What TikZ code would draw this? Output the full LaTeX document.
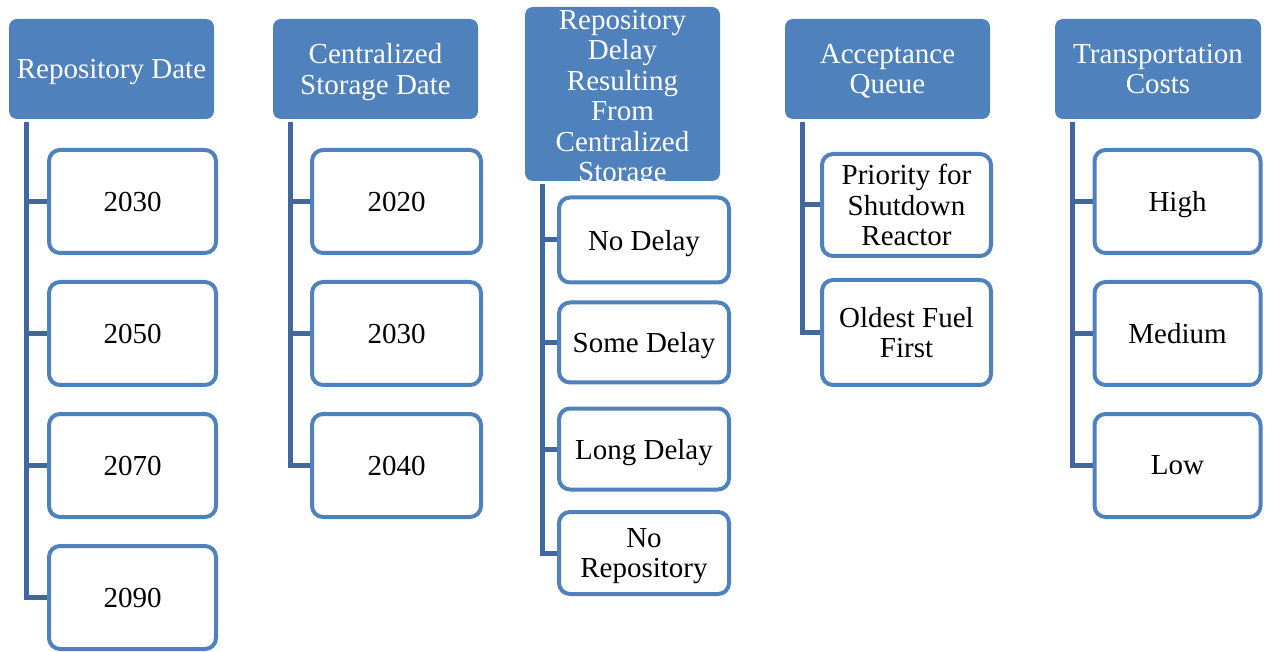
\documentclass[tikz,border=0pt]{standalone}
\usepackage{fontspec}
\setmainfont{Liberation Serif}
\usetikzlibrary{backgrounds}
\definecolor{hdrblue}{RGB}{79,129,189}
\definecolor{linkblue}{RGB}{64,104,156}
\tikzset{
  hdrfont/.style={font=\fontsize{29}{30.5}\selectfont, text depth=0pt},
  hdr/.style={fill=hdrblue, draw=none, rounded corners=8pt, text=white,
    align=center, inner sep=0pt, hdrfont,
    minimum width=205pt, minimum height=100pt},
  item/.style={fill=white, draw=hdrblue, line width=4pt, rounded corners=11pt,
    align=center, inner sep=0pt, hdrfont,
    minimum width=167pt, minimum height=103pt},
  link/.style={draw=linkblue, line width=5pt},
}
\begin{document}
\begin{tikzpicture}[x=1pt, y=-1pt]
\useasboundingbox (0,0) rectangle (1267,652);

% column headers
\node[hdr] (h1) at (111.5,69) {Repository Date};
\node[hdr] (h2) at (375.5,69) {Centralized\\Storage Date};
\node[hdr, minimum width=195pt, minimum height=174pt] (h3) at (622.5,94) {};
\node[text=white, align=center, inner sep=0pt, hdrfont] (h3t) at ([yshift=-2pt]h3.center)
  {Repository\\Delay\\Resulting\\From\\Centralized\\Storage};
\node[hdr] (h4) at (887.5,69) {Acceptance\\Queue};
\node[hdr, minimum width=206pt] (h5) at (1158,69) {Transportation\\Costs};

% repository dates
\node[item] (a1) at (132.5,201.5) {2030};
\node[item] (a2) at (132.5,333.5) {2050};
\node[item] (a3) at (132.5,465.5) {2070};
\node[item] (a4) at (132.5,597.5) {2090};

% centralized storage dates
\node[item, minimum width=169pt] (b1) at (396.5,201.5) {2020};
\node[item, minimum width=169pt] (b2) at (396.5,333.5) {2030};
\node[item, minimum width=169pt] (b3) at (396.5,465.5) {2040};

% repository delay
\node[item, minimum width=170pt, minimum height=85pt] (c1) at (644,240) {No Delay};
\node[item, minimum width=170pt, minimum height=80pt] (c2) at (644,342.5) {Some Delay};
\node[item, minimum width=170pt, minimum height=81pt] (c3) at (644,449) {Long Delay};
\node[item, minimum width=170pt, minimum height=82pt] (c4) at (644,553) {No\\Repository};

% acceptance queue
\node[item, minimum width=169pt, minimum height=102pt] (d1) at (906.5,205) {Priority for\\Shutdown\\Reactor};
\node[item, minimum width=169pt, minimum height=105pt] (d2) at (906.5,332.5) {Oldest Fuel\\First};

% transportation costs
\node[item, minimum width=166pt] (e1) at (1177.5,201.5) {High};
\node[item, minimum width=166pt] (e2) at (1177.5,333.5) {Medium};
\node[item, minimum width=166pt] (e3) at (1177.5,465.5) {Low};

% connectors behind the boxes
\begin{scope}[on background layer]
  \foreach \h/\c in {h1/a1,h1/a2,h1/a3,h1/a4,
                     h2/b1,h2/b2,h2/b3,
                     h3/c1,h3/c2,h3/c3,h3/c4,
                     h4/d1,h4/d2,
                     h5/e1,h5/e2,h5/e3}
    \draw[link] ([xshift=18pt,yshift=-3pt]\h.south west) |- (\c.west);
\end{scope}
\end{tikzpicture}
\end{document}
